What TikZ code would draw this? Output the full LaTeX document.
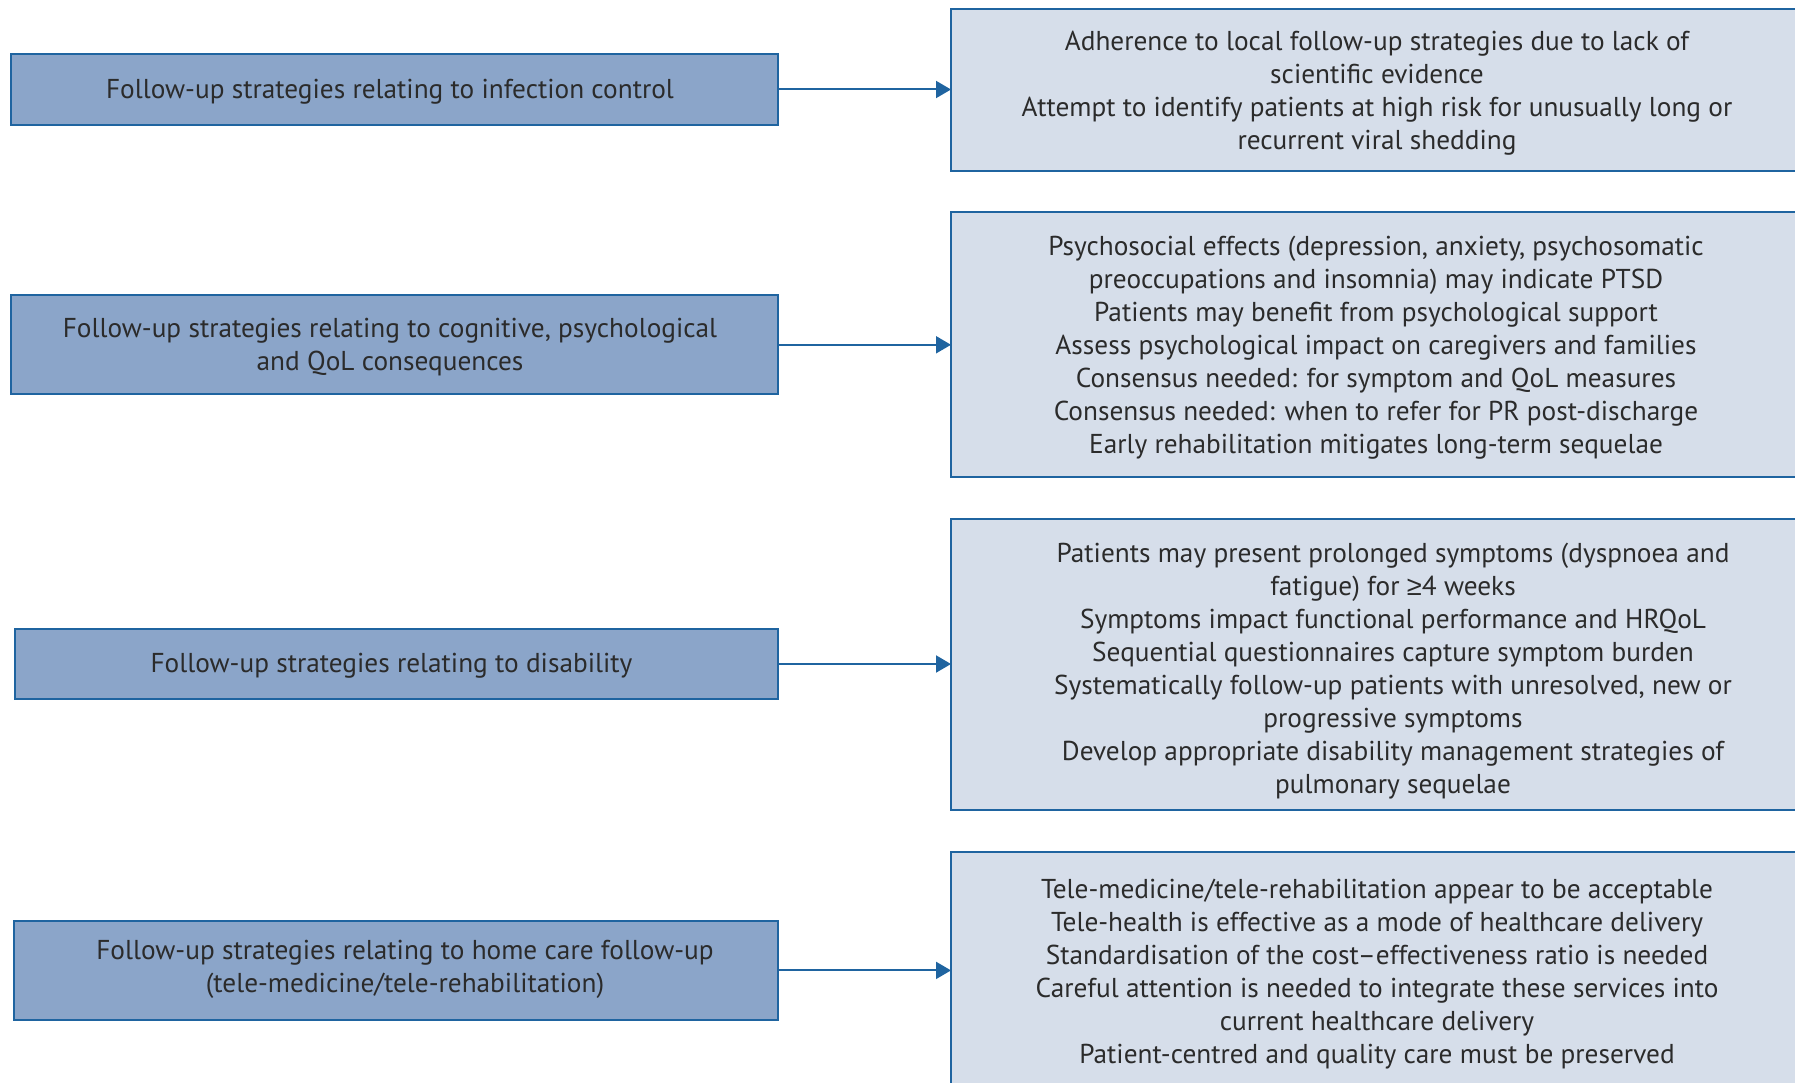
\documentclass[tikz,border=0pt]{standalone}
\usepackage{fontspec}
\setmainfont{PT Sans}
\newfontfamily\symfont{Liberation Sans}
\usetikzlibrary{arrows.meta}
\definecolor{edgeblue}{HTML}{1F64A0}
\definecolor{leftfill}{HTML}{8BA5C9}
\definecolor{rightfill}{HTML}{D6DEEA}
\definecolor{txt}{HTML}{2B2B2B}
\begin{document}
\begin{tikzpicture}[x=1pt,y=-1pt,
  leftbox/.style={draw=edgeblue,line width=2pt,fill=leftfill,inner sep=0pt,outer sep=0pt},
  rightbox/.style={draw=edgeblue,line width=2pt,fill=rightfill,inner sep=0pt,outer sep=0pt},
  label/.style={text=txt,align=center,inner sep=0pt,font=\fontsize{27.3}{33}\selectfont},
  conn/.style={draw=edgeblue,line width=2pt,-{Triangle[length=15pt,width=17pt]}}]
\useasboundingbox (0,0) rectangle (1795,1083);
\clip (0,0) rectangle (1795,1083);
% left boxes
\node[leftbox,minimum width=767pt,minimum height=71pt] (l1) at (394.5,89.5) {};
\node[leftbox,minimum width=767pt,minimum height=99pt] (l2) at (394.5,344.8) {};
\node[leftbox,minimum width=763pt,minimum height=70pt] (l3) at (396.5,664) {};
\node[leftbox,minimum width=764pt,minimum height=99pt] (l4) at (396,970.4) {};
% right boxes
\node[rightbox,minimum width=900pt,minimum height=162pt] (r1) at (1401,90) {};
\node[rightbox,minimum width=900pt,minimum height=265pt] (r2) at (1401,344.5) {};
\node[rightbox,minimum width=900pt,minimum height=291pt] (r3) at (1401,664.7) {};
\node[rightbox,minimum width=900pt,minimum height=300pt] (r4) at (1401,1001.7) {};
% left texts
\node[label] (t1) at (390,91.5) {Follow-up strategies relating to infection control};
\node[label] (t2) at (390,347.5) {Follow-up strategies relating to cognitive, psychological\\and QoL consequences};
\node[label] (t3) at (391.5,665.5) {Follow-up strategies relating to disability};
\node[label] (t4) at (405,969) {Follow-up strategies relating to home care follow-up\\(tele-medicine/tele-rehabilitation)};
% right texts
\node[label] (u1) at (1377,93) {Adherence to local follow-up strategies due to lack of\\scientific evidence\\Attempt to identify patients at high risk for unusually long or\\recurrent viral shedding};
\node[label] (u2) at (1376,347.5) {Psychosocial effects (depression, anxiety, psychosomatic\\preoccupations and insomnia) may indicate PTSD\\Patients may benefit from psychological support\\Assess psychological impact on caregivers and families\\Consensus needed: for symptom and QoL measures\\Consensus needed: when to refer for PR post-discharge\\Early rehabilitation mitigates long-term sequelae};
\node[label] (u3) at (1393,671) {Patients may present prolonged symptoms (dyspnoea and\\fatigue) for {\symfont ≥}4 weeks\\Symptoms impact functional performance and HRQoL\\Sequential questionnaires capture symptom burden\\Systematically follow-up patients with unresolved, new or\\progressive symptoms\\Develop appropriate disability management strategies of\\pulmonary sequelae};
\node[label] (u4) at (1377,974.5) {Tele-medicine/tele-rehabilitation appear to be acceptable\\Tele-health is effective as a mode of healthcare delivery\\Standardisation of the cost–effectiveness ratio is needed\\Careful attention is needed to integrate these services into\\current healthcare delivery\\Patient-centred and quality care must be preserved};
% connectors
\draw[conn] (l1.east) -- (l1.east -| r1.west);
\draw[conn] (l2.east) -- (l2.east -| r2.west);
\draw[conn] (l3.east) -- (l3.east -| r3.west);
\draw[conn] (l4.east) -- (l4.east -| r4.west);
\end{tikzpicture}
\end{document}
